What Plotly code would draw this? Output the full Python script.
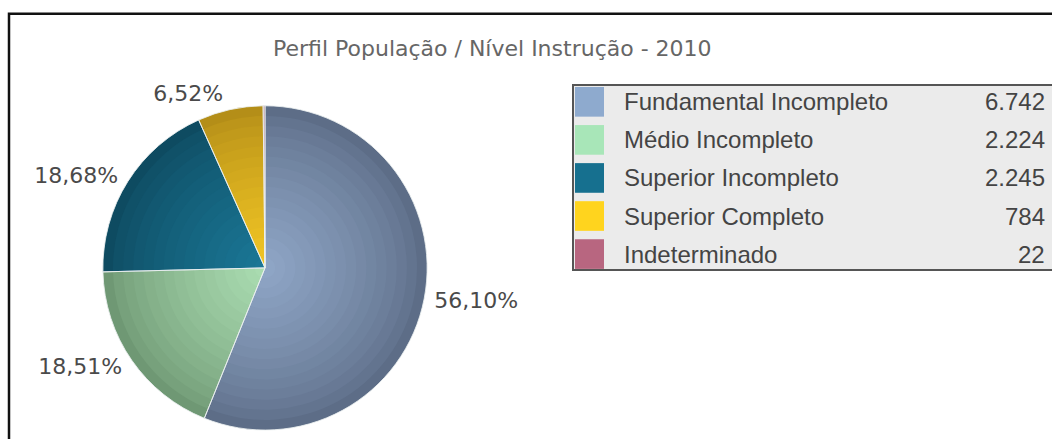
import plotly.graph_objects as go

# ---- data ----
categories = ["Fundamental Incompleto", "Médio Incompleto", "Superior Incompleto",
              "Superior Completo", "Indeterminado"]
values = [6742, 2224, 2245, 784, 22]
title_text = "Perfil População / Nível Instrução - 2010"

legend_colors = ["#8eaace", "#a8e6b8", "#16708f", "#ffd41e", "#b86680"]
edge_colors = ["#5d6d87", "#6f9874", "#0e4b61", "#b48e18", "#8e4a60"]
center_colors = ["#8ea5c5", "#a9dbb0", "#1a7695", "#f0c424", "#c07088"]

W, H = 1052, 439


def px(x):
    return x / W


def py(y):
    return 1 - y / H


def hex2rgb(h):
    h = h.lstrip("#")
    return tuple(int(h[i:i + 2], 16) for i in (0, 2, 4))


def mix(c1, c2, t):
    a, b = hex2rgb(c1), hex2rgb(c2)
    return "rgb(%d,%d,%d)" % tuple(round(a[i] + (b[i] - a[i]) * t) for i in range(3))


total = sum(values)
pct_text = []
for v in values:
    p = v / total * 100
    pct_text.append(("%.2f%%" % p).replace(".", ",") if p >= 1 else "")

# pie geometry (pixels)
cx, cy, R = 265, 271, 164

fig = go.Figure()


def add_pie(radius, colors, line_color="rgba(0,0,0,0)", line_w=0, text=None):
    y0 = max(0.0, py(cy + radius))
    y1 = min(1.0, py(cy - radius))
    fig.add_trace(go.Pie(
        labels=categories, values=values, sort=False, direction="clockwise",
        rotation=0,
        domain=dict(x=[px(cx - radius), px(cx + radius)], y=[y0, y1]),
        marker=dict(colors=colors, line=dict(color=line_color, width=line_w)),
        text=text if text is not None else None,
        texttemplate="%{text}" if text is not None else None,
        textinfo="text" if text is not None else "none",
        textposition="outside" if text is not None else "none",
        textfont=dict(family="DejaVu Sans", size=22, color="#4a4a4a"),
        showlegend=False, hoverinfo="skip",
    ))


# gradient layers (outer dark -> inner light)
N = 16
for k in range(N):
    f = 1 - k / N
    t = (k / (N - 1)) ** 0.75
    cols = [mix(e, c, t) for e, c in zip(edge_colors, center_colors)]
    add_pie(R * f, cols)

# separator lines
add_pie(R, ["rgba(0,0,0,0)"] * len(values), "rgba(235,240,240,0.85)", 1)
# labels (invisible pie slightly larger than the visible one)
add_pie(min(R + 14, H - cy), ["rgba(0,0,0,0)"] * len(values), text=pct_text)

shapes = []
annotations = []

# outer frame
shapes.append(dict(type="rect", xref="paper", yref="paper",
                   x0=px(9), x1=px(1060), y0=py(460), y1=py(14),
                   line=dict(color="#111111", width=2.5), fillcolor="rgba(0,0,0,0)"))

# legend box
shapes.append(dict(type="rect", xref="paper", yref="paper",
                   x0=px(573), x1=px(1062), y0=py(273), y1=py(86),
                   line=dict(color="#555555", width=2), fillcolor="#ebebeb"))

row_h = 38.5
for i, (name, v, c) in enumerate(zip(categories, values, legend_colors)):
    top = 88 + i * row_h
    shapes.append(dict(type="rect", xref="paper", yref="paper",
                       x0=px(575), x1=px(604), y0=py(top + 30), y1=py(top),
                       line=dict(width=0), fillcolor=c))
    ymid = top + 15
    annotations.append(dict(xref="paper", yref="paper", x=px(622), y=py(ymid),
                            xanchor="left", yanchor="middle", showarrow=False,
                            text=name, font=dict(family="Liberation Sans", size=24, color="#444444")))
    annotations.append(dict(xref="paper", yref="paper", x=px(1047), y=py(ymid),
                            xanchor="right", yanchor="middle", showarrow=False,
                            text=f"{v:,}".replace(",", "."),
                            font=dict(family="Liberation Sans", size=24, color="#444444")))

# title
annotations.append(dict(xref="paper", yref="paper", x=px(492), y=py(49),
                        xanchor="center", yanchor="middle", showarrow=False,
                        text=title_text,
                        font=dict(family="DejaVu Sans", size=22, color="#666666")))

fig.update_layout(
    width=W, height=H, margin=dict(l=0, r=0, t=0, b=0),
    paper_bgcolor="white", plot_bgcolor="white",
    shapes=shapes, annotations=annotations,
)

fig.write_html("out.html")
